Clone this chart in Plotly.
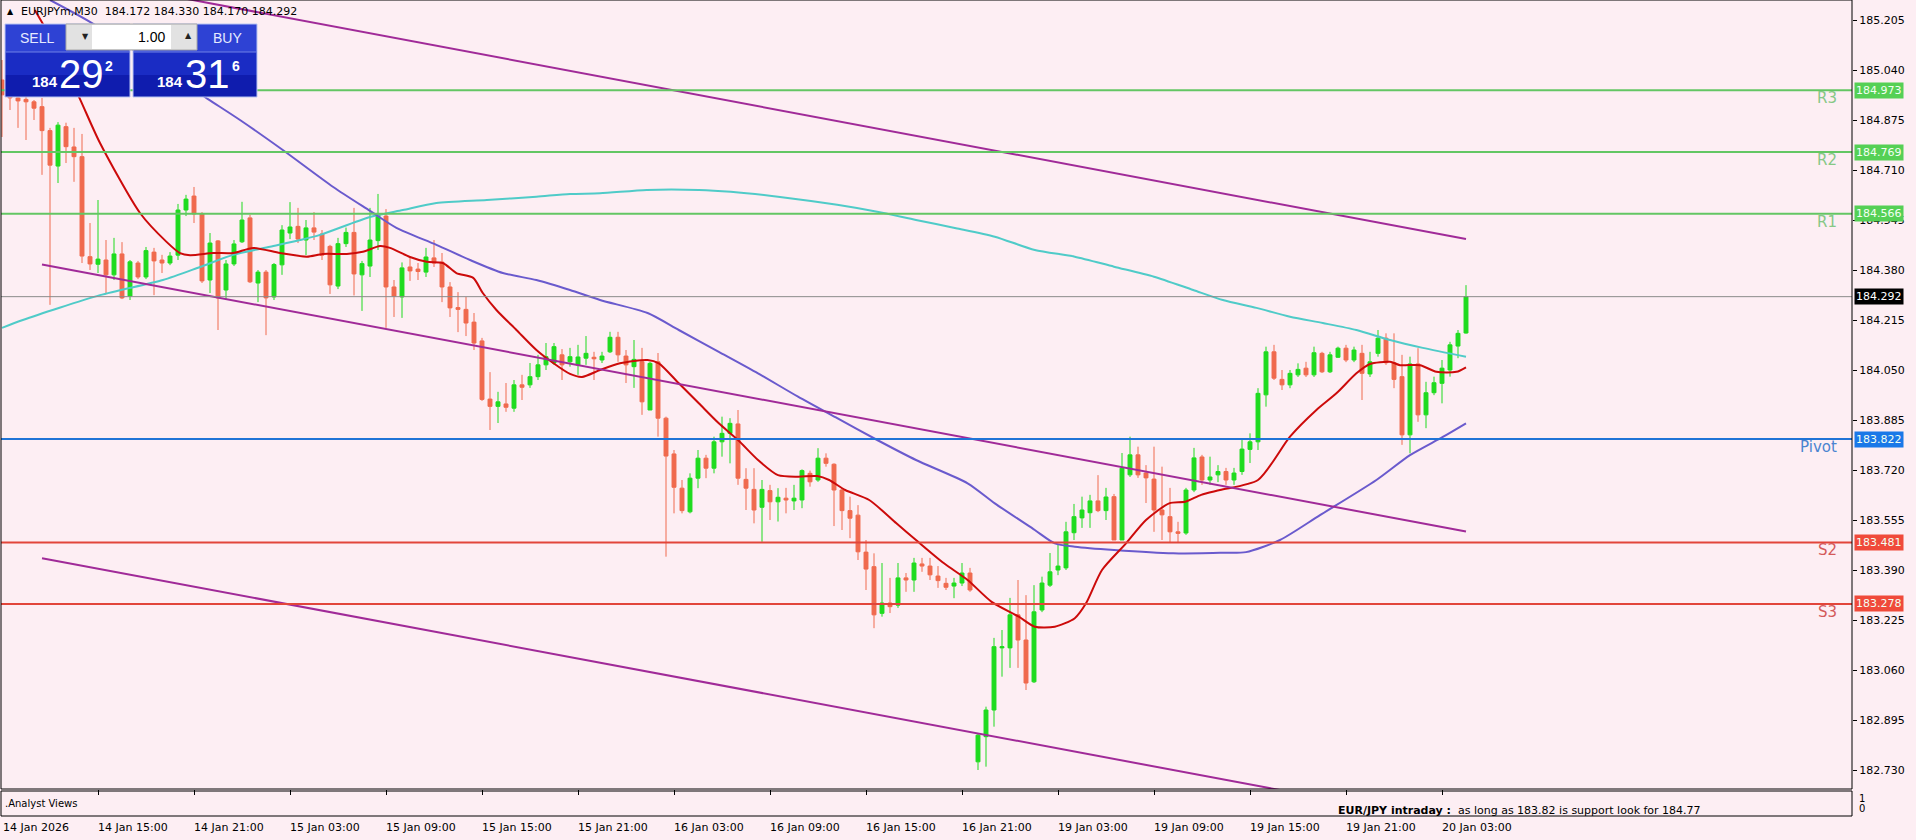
import plotly.graph_objects as go

# ---------------- data ----------------
open_ = [185.007,184.958,184.948,184.943,184.935,184.919,184.840,184.723,184.853,184.786,
184.754,184.424,184.399,184.413,184.364,184.433,184.294,184.403,184.357,184.439,
184.413,184.403,184.429,184.578,184.624,184.565,184.347,184.476,184.314,184.400,
184.473,184.552,184.337,184.373,184.291,184.397,184.502,184.524,184.479,184.519,
184.499,184.458,184.327,184.467,184.504,184.364,184.393,184.477,184.558,184.324,
184.291,184.390,184.383,184.373,184.420,184.406,184.324,184.256,184.250,184.208,
184.146,183.954,183.930,183.938,183.924,184.001,184.001,184.028,184.067,184.073,
184.100,184.077,184.067,184.089,184.092,184.083,184.110,184.158,184.096,184.061,
184.077,183.918,184.077,183.891,183.773,183.660,183.582,183.693,183.759,183.726,
183.813,183.841,183.872,183.689,183.656,183.597,183.652,183.615,183.627,183.618,
183.621,183.709,183.687,183.759,183.739,183.654,183.586,183.571,183.449,183.401,
183.247,183.281,183.274,183.364,183.357,183.410,183.403,183.370,183.346,183.337,
183.347,183.380,182.757,182.840,182.928,183.133,183.133,183.242,183.159,183.021,
183.258,183.340,183.390,183.397,183.513,183.562,183.579,183.618,183.586,183.632,
183.489,183.704,183.770,183.710,183.690,183.588,183.566,183.516,183.512,183.654,
183.763,183.687,183.704,183.715,183.687,183.715,183.788,183.813,183.968,184.110,
184.019,184.001,184.034,184.056,184.034,184.105,184.044,184.092,184.122,184.083,
184.105,184.037,184.105,184.155,184.074,184.028,183.836,184.070,183.902,183.975,
184.006,184.050,184.129,184.172]
high = [185.073,185.024,184.991,184.974,184.941,184.948,184.849,184.868,184.866,184.849,
184.829,184.535,184.611,184.479,184.486,184.472,184.413,184.410,184.456,184.453,
184.430,184.439,184.598,184.628,184.654,184.571,184.502,184.479,184.413,184.479,
184.605,184.562,184.380,184.380,184.403,184.528,184.604,184.585,184.545,184.571,
184.512,184.463,184.486,184.520,184.585,184.410,184.585,184.631,184.581,184.347,
184.405,184.420,184.403,184.453,184.479,184.436,184.340,184.307,184.291,184.238,
184.156,184.043,183.978,184.007,184.017,184.034,184.073,184.100,184.139,184.139,
184.119,184.123,184.133,184.162,184.110,184.110,184.176,184.176,184.116,184.149,
184.123,184.077,184.106,183.896,183.786,183.687,183.709,183.786,183.770,183.830,
183.896,183.891,183.918,183.726,183.726,183.687,183.671,183.660,183.661,183.671,
183.722,183.718,183.792,183.775,183.742,183.660,183.632,183.604,183.489,183.445,
183.413,183.364,183.413,183.380,183.430,183.430,183.430,183.403,183.364,183.364,
183.413,183.397,182.852,182.939,183.166,183.192,183.298,183.357,183.307,183.340,
183.368,183.446,183.473,183.549,183.608,183.632,183.638,183.703,183.661,183.641,
183.776,183.830,183.797,183.736,183.797,183.731,183.661,183.549,183.661,183.793,
183.770,183.764,183.736,183.727,183.727,183.819,183.841,183.990,184.127,184.133,
184.050,184.050,184.072,184.077,184.127,184.110,184.110,184.127,184.133,184.127,
184.133,184.110,184.182,184.171,184.171,184.100,184.094,184.122,184.011,184.028,
184.083,184.143,184.182,184.330]
low = [184.819,184.908,184.849,184.809,184.875,184.694,184.265,184.667,184.733,184.671,
184.403,184.380,184.370,184.304,184.347,184.284,184.281,184.350,184.350,184.297,
184.370,184.396,184.413,184.558,184.535,184.337,184.304,184.182,184.281,184.393,
184.469,184.337,184.274,184.165,184.281,184.364,184.482,184.469,184.429,184.479,
184.413,184.301,184.317,184.456,184.296,184.245,184.357,184.446,184.189,184.225,
184.222,184.344,184.347,184.357,184.390,184.274,184.225,184.175,184.162,184.116,
183.948,183.852,183.875,183.912,183.912,183.951,183.991,184.017,184.050,184.067,
184.017,184.061,184.034,184.067,184.017,184.073,184.106,184.077,184.007,183.991,
183.902,183.918,183.830,183.434,183.577,183.577,183.577,183.660,183.693,183.709,
183.764,183.742,183.671,183.588,183.544,183.483,183.555,183.550,183.577,183.588,
183.594,183.665,183.681,183.731,183.535,183.522,183.495,183.423,183.324,183.198,
183.236,183.248,183.265,183.318,183.318,183.384,183.357,183.331,183.324,183.297,
183.337,183.318,182.730,182.741,182.873,183.038,183.067,183.067,182.994,183.017,
183.251,183.334,183.373,183.390,183.489,183.529,183.529,183.581,183.555,183.489,
183.489,183.697,183.694,183.611,183.516,183.489,183.479,183.479,183.506,183.647,
183.671,183.671,183.680,183.671,183.671,183.704,183.743,183.786,183.929,184.017,
183.984,183.990,184.027,184.027,184.027,184.040,184.040,184.090,184.076,184.076,
183.951,184.027,184.094,184.067,183.990,183.803,183.775,183.879,183.858,183.967,
183.940,184.028,184.089,184.170]
close = [184.958,184.948,184.938,184.935,184.914,184.840,184.726,184.858,184.787,184.754,
184.426,184.400,184.416,184.364,184.433,184.288,184.407,184.357,184.444,184.410,
184.403,184.426,184.578,184.614,184.565,184.344,184.469,184.288,184.400,184.466,
184.545,184.341,184.373,184.288,184.398,184.512,184.522,184.482,184.519,184.505,
184.429,184.331,184.467,184.504,184.367,184.401,184.479,184.561,184.324,184.294,
184.387,184.377,184.375,184.423,184.403,184.324,184.255,184.250,184.205,184.139,
183.953,183.930,183.945,183.927,184.001,183.993,184.028,184.067,184.094,184.127,
184.067,184.094,184.093,184.105,184.087,184.096,184.158,184.100,184.067,184.085,
183.945,184.072,183.891,183.766,183.663,183.586,183.693,183.759,183.726,183.813,
183.841,183.874,183.693,183.660,183.588,183.656,183.615,183.630,183.621,183.627,
183.718,183.681,183.759,183.742,183.654,183.586,183.561,183.450,183.393,183.242,
183.281,183.269,183.364,183.357,183.413,183.403,183.374,183.355,183.333,183.347,
183.380,183.324,182.845,182.928,183.137,183.137,183.242,183.159,183.017,183.252,
183.347,183.384,183.403,183.516,183.566,183.588,183.618,183.586,183.631,183.489,
183.726,183.770,183.704,183.694,183.588,183.572,183.516,183.511,183.654,183.760,
183.687,183.697,183.715,183.687,183.710,183.789,183.813,183.973,184.110,184.023,
184.001,184.039,184.052,184.034,184.107,184.044,184.100,184.122,184.083,184.116,
184.039,184.077,184.155,184.074,184.019,183.836,184.070,183.902,183.975,184.008,
184.056,184.133,184.171,184.292]
bar_idx = list(range(len(open_)))

# moving averages (bar position, price)
fast_ma_idx = [4.1,6.6,9.75,12.25,17.25,20.6,22.25,23.5,26.4,28.9,31.4,34.75,38.1,40.1,43.1,45.1,47.25,48.5,51,53.1,55.1,56.8,58.9,60.1,61.8,64.3,66.8,68.9,71,72.5,74.75,77.25,80.7,82.1,84.6,87.1,89.6,92,94.5,97,99.5,101.9,103.4,105.4,108.4,111.8,114.25,117.75,120.7,123.7,127.1,129.1,131.6,134.1,135.5,137.5,140.5,143,145.9,147.9,149.9,152.25,157,161,164.3,166.8,169.3,171,173.5,174.75,177.25,179.3,181.8,183]
fast_ma_val = [185.238,185.122,184.944,184.799,184.568,184.472,184.436,184.429,184.436,184.436,184.453,184.436,184.424,184.433,184.433,184.440,184.459,184.453,184.423,184.407,184.403,184.370,184.354,184.304,184.248,184.182,184.116,184.073,184.037,184.027,184.050,184.072,184.083,184.072,184.006,183.940,183.874,183.819,183.753,183.703,183.698,183.700,183.687,183.654,183.621,183.544,183.489,183.412,183.357,183.285,183.236,183.203,183.203,183.231,183.280,183.390,183.478,183.555,183.610,183.615,183.638,183.654,183.687,183.830,183.918,183.973,184.039,184.070,184.077,184.066,184.066,184.044,184.044,184.059]

mid_ma_idx = [6,11.25,25.75,29.75,35.1,41.4,46,49.3,54.3,58.5,62.6,66.8,71,74.75,80.7,84.6,89.6,94.5,99.5,104.4,109.4,114.25,120.7,124.1,129.1,131.6,134.1,139,146.4,152.25,155.5,159.75,164.75,171.8,176,180.1,183]
mid_ma_val = [185.271,185.195,184.944,184.875,184.776,184.654,184.575,184.519,184.463,184.413,184.370,184.347,184.314,184.281,184.238,184.182,184.110,184.039,183.962,183.891,183.819,183.753,183.676,183.610,183.522,183.478,183.467,183.456,183.445,183.447,183.449,183.489,183.571,183.687,183.769,183.829,183.874]

slow_ma_idx = [0,2.6,12.25,20.1,24.75,28.9,33.5,37.25,39.75,46,50.1,54.3,60.6,66.8,71,74.75,80.6,87.1,91.1,97,104.4,109.4,114.25,119.25,124.1,129.1,134.1,139,144,148.9,152.6,156.8,161,165.1,169.3,173.5,177.6,183]
slow_ma_val = [184.189,184.215,184.297,184.347,184.390,184.430,184.457,184.479,184.496,184.555,184.578,184.601,184.611,184.622,184.631,184.633,184.644,184.644,184.638,184.622,184.595,184.572,184.545,184.518,184.490,184.446,184.424,184.391,184.358,184.314,184.281,184.255,184.226,184.205,184.182,184.149,184.123,184.094]

# regression channel anchors (bar position, price)
chan_upper_idx = [20, 183]
chan_upper_val = [185.290, 184.482]
chan_mid_idx = [5, 183]
chan_mid_val = [184.398, 183.517]
chan_low_idx = [5, 183]
chan_low_val = [183.429, 182.549]

# pivot levels
level_names = ["R3", "R2", "R1", "Pivot", "S2", "S3"]
level_values = [184.973, 184.769, 184.566, 183.822, 183.481, 183.278]
bid_price = 184.292

y_ticks = [185.205,185.040,184.875,184.710,184.545,184.380,184.215,184.050,183.885,
           183.720,183.555,183.390,183.225,183.060,182.895,182.730]
time_tick_idx = [12,24,36,48,60,72,84,96,108,120,132,144,156,168,180]
time_tick_text = ["14 Jan 15:00","14 Jan 21:00","15 Jan 03:00","15 Jan 09:00","15 Jan 15:00",
                  "15 Jan 21:00","16 Jan 03:00","16 Jan 09:00","16 Jan 15:00","16 Jan 21:00",
                  "19 Jan 03:00","19 Jan 09:00","19 Jan 15:00","19 Jan 21:00","20 Jan 03:00"]
first_label = "14 Jan 2026"

# ---------------- styling ----------------
BG = "#FDEEF3"
BULL = "#1FDB1F"
BEAR = "#F06A4E"
W, H = 1916, 840
ML, MR, MT, MB = 1, 64, 0, 24
PLOT_H = H - MT - MB
MAIN_BOTTOM = 789
SUB_TOP, SUB_BOTTOM = 791, 816
FONT = "DejaVu Sans"

def PX(x):
    return (x - ML) / (W - ML - MR)

def PY(y):
    return (PLOT_H - y) / PLOT_H

fig = go.Figure()

fig.add_trace(go.Candlestick(
    x=bar_idx, open=open_, high=high, low=low, close=close,
    increasing=dict(line=dict(color=BULL, width=1), fillcolor=BULL),
    decreasing=dict(line=dict(color=BEAR, width=1), fillcolor=BEAR),
    whiskerwidth=0, showlegend=False, hoverinfo="skip", xaxis="x", yaxis="y"))

for ix, vals, col in [(slow_ma_idx, slow_ma_val, "#4FCBC8"),
                      (mid_ma_idx, mid_ma_val, "#6A5ACD"),
                      (fast_ma_idx, fast_ma_val, "#CC0A0A")]:
    fig.add_trace(go.Scatter(x=ix, y=vals, mode="lines", showlegend=False, hoverinfo="skip",
                             line=dict(color=col, width=2, shape="spline", smoothing=0.7),
                             xaxis="x", yaxis="y"))

for ix, vals in [(chan_upper_idx, chan_upper_val), (chan_mid_idx, chan_mid_val),
                 (chan_low_idx, chan_low_val)]:
    fig.add_trace(go.Scatter(x=ix, y=vals, mode="lines", showlegend=False, hoverinfo="skip",
                             line=dict(color="#A02A98", width=2), xaxis="x", yaxis="y"))

shapes = []
annotations = []

line_cols = {"R": "#63C663", "P": "#1F74D6", "S": "#E2453A"}
box_cols = {"R": "#55D055", "P": "#1A78E8", "S": "#F04A3A"}
txt_cols = {"R": "#86C886", "P": "#4A84D0", "S": "#D45A5A"}

# bid line
shapes.append(dict(type="line", xref="paper", yref="y", x0=0, x1=1, y0=bid_price, y1=bid_price,
                   line=dict(color="#8A8A8A", width=1), layer="above"))
for name, val in zip(level_names, level_values):
    k = name[0]
    shapes.append(dict(type="line", xref="paper", yref="y", x0=0, x1=1, y0=val, y1=val,
                       line=dict(color=line_cols[k], width=2), layer="above"))
    annotations.append(dict(xref="paper", yref="y", x=1, y=val, xanchor="right", yanchor="middle",
                            xshift=-13, yshift=-8, text=name, showarrow=False,
                            font=dict(family=FONT, size=15, color=txt_cols[k])))
    annotations.append(dict(xref="paper", yref="y", x=1, y=val, xanchor="left", yanchor="middle",
                            xshift=2, text=f"{val:.3f}", showarrow=False, bgcolor=box_cols[k],
                            borderpad=1, font=dict(family=FONT, size=11, color="#F2FFF2")))
annotations.append(dict(xref="paper", yref="y", x=1, y=bid_price, xanchor="left", yanchor="middle",
                        xshift=2, text=f"{bid_price:.3f}", showarrow=False, bgcolor="black",
                        borderpad=1, font=dict(family=FONT, size=11, color="white")))

# window borders
shapes.append(dict(type="rect", xref="paper", yref="paper", x0=0, x1=1, y0=PY(MAIN_BOTTOM), y1=1,
                   line=dict(color="black", width=1), layer="above"))
shapes.append(dict(type="rect", xref="paper", yref="paper", x0=0, x1=1, y0=PY(SUB_BOTTOM), y1=PY(SUB_TOP),
                   line=dict(color="black", width=1), layer="above"))

# one-click trading panel
def rect(x0, y0, x1, y1, fill, line=None, lw=1):
    shapes.append(dict(type="rect", xref="paper", yref="paper", x0=PX(x0), x1=PX(x1),
                       y0=PY(y1), y1=PY(y0), fillcolor=fill,
                       line=dict(color=line or fill, width=lw if line else 0), layer="above"))

for bx0, bx1 in [(5, 130), (133, 257)]:
    rect(bx0, 24, bx1, 52, "#2E42D4")
    rect(bx0, 52, bx1, 75, "#1A2CC4")
    rect(bx0, 75, bx1, 97, "#0F1CAE")
    rect(bx0, 24, bx1, 97, "rgba(0,0,0,0)", "#B8C4F2", 1)
    shapes.append(dict(type="line", xref="paper", yref="paper", x0=PX(bx0), x1=PX(bx1),
                       y0=PY(52), y1=PY(52), line=dict(color="#6F80E6", width=1), layer="above"))
rect(66, 24, 197, 50, "#E2E2E2", "#A8A8A8", 1)
rect(92, 25, 171, 49, "#FFFFFF")

def txt(x, y, s, size, color="black", family=FONT, anchor="left", bold=False):
    if bold:
        s = f"<b>{s}</b>"
    annotations.append(dict(xref="paper", yref="paper", x=PX(x), y=PY(y), xanchor=anchor,
                            yanchor="middle", text=s, showarrow=False,
                            font=dict(family=family, size=size, color=color)))

NUMF = "Liberation Sans"
txt(5, 12, "▲", 8)
txt(19, 12, "EURJPYm,M30  184.172 184.330 184.170 184.292", 11)
txt(18, 38, "SELL", 14, "#E6EAFF", "Liberation Sans")
txt(211, 38, "BUY", 14, "#E6EAFF", "Liberation Sans")
txt(80, 37, "▼", 8, "#222222")
txt(183, 36, "▲", 8, "#222222")
txt(167, 37, "1.00", 14, "black", "Liberation Sans", anchor="right")
txt(30, 82, "184", 15, "white", NUMF, bold=True)
txt(57, 74, "29", 40, "white", NUMF)
txt(103, 66, "2", 14, "white", NUMF, bold=True)
txt(155, 82, "184", 15, "white", NUMF, bold=True)
txt(183, 74, "31", 40, "white", NUMF)
txt(230, 66, "6", 14, "white", NUMF, bold=True)

# sub window texts
txt(3, 803, ".Analyst Views", 10)
txt(1336, 810, "<b>EUR/JPY intraday :</b>  as long as 183.82 is support look for 184.77", 11)
txt(1857, 798, "1", 10)
txt(1857, 808, "0", 10)

# time axis labels
annotations.append(dict(xref="paper", yref="paper", x=PX(1), y=PY(827), xanchor="left", yanchor="middle",
                        text=first_label, showarrow=False, font=dict(family=FONT, size=11, color="black")))
for i, t in zip(time_tick_idx, time_tick_text):
    annotations.append(dict(xref="x", yref="paper", x=i, y=PY(827), xanchor="left", yanchor="middle",
                            xshift=-2, text=t, showarrow=False,
                            font=dict(family=FONT, size=11, color="black")))

y_lo = 185.271 - 0.0033 * MAIN_BOTTOM
fig.update_layout(
    width=W, height=H, margin=dict(l=ML, r=MR, t=MT, b=MB, pad=0),
    paper_bgcolor=BG, plot_bgcolor=BG, showlegend=False,
    xaxis=dict(domain=[0, 1], anchor="y2", range=[-0.125, 231.25], showgrid=False, zeroline=False,
               showline=False, ticks="outside", ticklen=5, tickcolor="black",
               tickvals=time_tick_idx, showticklabels=False, rangeslider=dict(visible=False),
               fixedrange=True),
    yaxis=dict(domain=[PY(MAIN_BOTTOM), 1], anchor="x", side="right", range=[y_lo, 185.271],
               showgrid=False, zeroline=False, showline=False, ticks="outside", ticklen=4,
               tickcolor="black", tickvals=y_ticks, ticktext=[f"{v:.3f}" for v in y_ticks],
               tickfont=dict(family=FONT, size=11, color="black"), fixedrange=True),
    yaxis2=dict(domain=[0, PY(SUB_TOP)], anchor="x", side="right", range=[-0.714, 1.667],
                showgrid=False, zeroline=False, showline=False, ticks="", showticklabels=False,
                fixedrange=True),
    shapes=shapes, annotations=annotations,
)

fig.write_html("out.html", config={"displayModeBar": False},
               post_script="document.body.style.margin='0';document.body.style.overflow='hidden';")
